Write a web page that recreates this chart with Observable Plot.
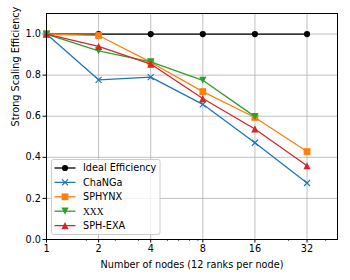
<!DOCTYPE html>
<html>
<head>
<meta charset="utf-8">
<script src="https://cdn.jsdelivr.net/npm/d3@7"></script>
<script src="https://cdn.jsdelivr.net/npm/@observablehq/plot@0.6"></script>
<style>
  html, body { margin: 0; padding: 0; background: #fff; }
</style>
</head>
<body>
<div id="chart"></div>
<script>
const nodes = [1, 2, 4, 8, 16, 32];
const ideal = [1, 1, 1, 1, 1, 1];
const changa = [1.0, 0.777, 0.79, 0.658, 0.471, 0.275];
const sphynx = [1.0, 0.993, 0.863, 0.72, 0.594, 0.428];
const xxx = [1.0, 0.918, 0.865, 0.775, 0.598];
const sphexa = [1.0, 0.94, 0.854, 0.686, 0.538, 0.359];

const seriesNames = ["Ideal Efficiency", "ChaNGa", "SPHYNX", "XXX", "SPH-EXA"];
const seriesValues = [ideal, changa, sphynx, xxx, sphexa];
const colors = ["#000000", "#1f77b4", "#ff7f0e", "#2ca02c", "#d62728"];

const xTicks = [1, 2, 4, 8, 16, 32];
const xMinorTicks = [1.7, 2.5, 3.4, 5, 5.8, 6.7, 7.5, 25, 41];
const yTicks = [0, 0.2, 0.4, 0.6, 0.8, 1.0];

const FONT = "DejaVu Sans";
const FS = 9.7;

// custom marker symbols
const symCircle = {draw(c, size) { const s = Math.sqrt(size / Math.PI); c.moveTo(s, 0); c.arc(0, 0, s, 0, 2 * Math.PI); }};
const symSquare = {draw(c, size) { const s = Math.sqrt(size / Math.PI); c.rect(-s, -s, 2 * s, 2 * s); }};
const symTriUp = {draw(c, size) { const s = Math.sqrt(size / Math.PI); c.moveTo(0, -s); c.lineTo(s, s); c.lineTo(-s, s); c.closePath(); }};
const symTriDown = {draw(c, size) { const s = Math.sqrt(size / Math.PI); c.moveTo(0, s); c.lineTo(s, -s); c.lineTo(-s, -s); c.closePath(); }};
const symX = {draw(c, size) { const s = Math.sqrt(size / Math.PI); c.moveTo(-s, -s); c.lineTo(s, s); c.moveTo(s, -s); c.lineTo(-s, s); }};

const markers = [
  {symbol: symCircle, r: 3.1, filled: true},
  {symbol: symX, r: 3.0, filled: false},
  {symbol: symSquare, r: 3.4, filled: true},
  {symbol: symTriDown, r: 3.6, filled: true},
  {symbol: symTriUp, r: 3.6, filled: true}
];

const series = seriesNames.map((name, i) => ({
  name,
  color: colors[i],
  marker: markers[i],
  data: seriesValues[i].map((v, j) => ({x: nodes[j], y: v}))
}));

const marks = [
  Plot.gridX(xTicks, {stroke: "#b0b0b0", strokeOpacity: 1, strokeWidth: 0.8}),
  Plot.gridY(yTicks, {stroke: "#b0b0b0", strokeOpacity: 1, strokeWidth: 0.8}),
  Plot.axisX(xMinorTicks, {tickSize: 2, text: null, label: null, strokeWidth: 0.6}),
  Plot.axisX(xTicks, {tickSize: 3.5, tickPadding: 2, tickFormat: d => String(d), label: null, fontSize: FS}),
  Plot.axisY(yTicks, {tickSize: 3.5, tickPadding: 2, tickFormat: d3.format(".1f"), label: null, fontSize: FS}),
  Plot.text(["Number of nodes (12 ranks per node)"], {frameAnchor: "bottom", dy: 25, lineAnchor: "middle", fontSize: FS}),
  Plot.text(["Strong Scaling Efficiency"], {frameAnchor: "left", dx: -31, rotate: -90, lineAnchor: "middle", fontSize: FS})
];

for (const s of series) {
  marks.push(Plot.line(s.data, {x: "x", y: "y", stroke: s.color, strokeWidth: 1.3}));
  marks.push(Plot.dot(s.data, s.marker.filled
    ? {x: "x", y: "y", symbol: s.marker.symbol, r: s.marker.r, fill: s.color, stroke: "none"}
    : {x: "x", y: "y", symbol: s.marker.symbol, r: s.marker.r, fill: "none", stroke: s.color, strokeWidth: 1.2}));
}
marks.push(Plot.frame({stroke: "black", strokeWidth: 1}));

const svg = Plot.plot({
  width: 350,
  height: 280,
  marginLeft: 46,
  marginRight: 13,
  marginTop: 13,
  marginBottom: 41,
  style: {fontFamily: FONT, fontSize: FS + "px", background: "#fff", color: "#000"},
  x: {type: "log", base: 2, domain: [1, 48]},
  y: {domain: [0, 1.1]},
  marks
});

// legend inside the axes, lower-left corner
const g = d3.select(svg).append("svg:g")
  .attr("font-family", FONT).attr("font-size", FS).attr("text-anchor", "start");
g.append("svg:rect")
  .attr("x", 51.5).attr("y", 159.5).attr("width", 108.5).attr("height", 75)
  .attr("rx", 2).attr("ry", 2)
  .style("fill", "#ffffff").style("fill-opacity", 0.8)
  .style("stroke", "#cccccc").style("stroke-width", 1);
series.forEach((s, i) => {
  const y = 168 + i * 14.4;
  g.append("svg:line").attr("x1", 54.5).attr("x2", 75.5).attr("y1", y).attr("y2", y)
    .attr("stroke", s.color).attr("stroke-width", 1.3);
  const p = d3.symbol().type(s.marker.symbol).size(Math.PI * s.marker.r * s.marker.r)();
  const m = g.append("svg:path").attr("d", p).attr("transform", `translate(65,${y})`);
  if (s.marker.filled) m.attr("fill", s.color).attr("stroke", "none");
  else m.attr("fill", "none").attr("stroke", s.color).attr("stroke-width", 1.2);
  const t = g.append("svg:text").attr("x", 83).attr("y", y).attr("dy", "0.35em")
    .attr("text-anchor", "start").attr("fill", "#000").text(s.name);
  if (s.name === "XXX") t.style("font-family", "'Liberation Serif', 'DejaVu Serif', serif").style("font-size", "9.5px");
});

document.getElementById("chart").appendChild(svg);
</script>
</body>
</html>
